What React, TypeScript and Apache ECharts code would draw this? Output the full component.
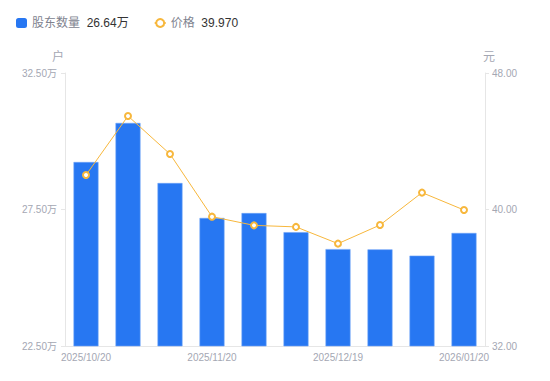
import React, { useEffect, useRef } from "react";
import * as echarts from "echarts";

const categories = [
  "2025/10/20",
  "2025/10/31",
  "2025/11/10",
  "2025/11/20",
  "2025/11/28",
  "2025/12/10",
  "2025/12/19",
  "2025/12/31",
  "2026/01/09",
  "2026/01/20",
];
const holders = [29.24, 30.67, 28.47, 27.19, 27.37, 26.67, 26.05, 26.04, 25.81, 26.64];
const prices = [42.02, 45.48, 43.25, 39.58, 39.07, 38.98, 38.0, 39.09, 40.99, 39.97];
const leftTicks = [22.5, 27.5, 32.5];

const FONT = "Arial, 'Liberation Sans', 'Noto Sans CJK SC', sans-serif";

export default function App() {
  const ref = useRef<HTMLDivElement>(null);
  useEffect(() => {
    if (!ref.current) return;
    const chart = echarts.init(ref.current, undefined, { renderer: "svg" });
    const lastHolder = holders[holders.length - 1];
    const lastPrice = prices[prices.length - 1];
    chart.setOption({
      animation: false,
      textStyle: { fontFamily: FONT },
      legend: {
        left: 11,
        top: 12,
        itemWidth: 11,
        itemHeight: 10,
        itemGap: 25,
        data: [
          { name: "股东数量", icon: "roundRect", itemStyle: { borderWidth: 0 } },
          { name: "价格" },
        ],
        formatter: (name: string) =>
          name === "股东数量"
            ? `{n|${name}}  {v|${lastHolder.toFixed(2)}万}`
            : `{n|${name}}  {v|${lastPrice.toFixed(3)}}`,
        textStyle: {
          fontFamily: FONT,
          rich: {
            n: { color: "#80838f", fontSize: 12, fontFamily: FONT },
            v: { color: "#333333", fontSize: 12, fontFamily: FONT },
          },
        },
      },
      grid: { left: 65, right: 65, top: 73, bottom: 35, containLabel: false },
      xAxis: {
        type: "category",
        data: categories,
        axisLine: { lineStyle: { color: "#e6e6e6" } },
        axisTick: { show: false },
        axisLabel: {
          color: "#a4a7b3",
          fontSize: 10,
          interval: 2,
          margin: 6,
          fontFamily: FONT,
        },
      },
      yAxis: [
        {
          type: "value",
          name: "户",
          nameGap: 10,
          nameTextStyle: { color: "#a4a7b3", fontSize: 12, padding: [0, 14, 0, 0] },
          min: 22.5,
          max: 32.5,
          axisLine: { show: true, lineStyle: { color: "#e6e6e6" } },
          axisTick: { show: true, length: 4, lineStyle: { color: "#e6e6e6" }, customValues: leftTicks },
          splitLine: { show: false },
          axisLabel: {
            color: "#a4a7b3",
            fontSize: 10,
            margin: 8,
            customValues: leftTicks,
            formatter: (v: number) => `${v.toFixed(2)}万`,
          },
        },
        {
          type: "value",
          name: "元",
          nameGap: 10,
          nameTextStyle: { color: "#a4a7b3", fontSize: 12, padding: [0, 0, 0, 8] },
          min: 32,
          max: 48,
          interval: 8,
          position: "right",
          axisLine: { show: true, lineStyle: { color: "#e6e6e6" } },
          axisTick: { show: true, length: 4, lineStyle: { color: "#e6e6e6" } },
          splitLine: { show: false },
          axisLabel: {
            color: "#a4a7b3",
            fontSize: 10,
            margin: 7,
            formatter: (v: number) => v.toFixed(2),
          },
        },
      ],
      series: [
        {
          name: "股东数量",
          type: "bar",
          yAxisIndex: 0,
          data: holders,
          barWidth: 25,
          itemStyle: { color: "#2777f2", borderColor: "#6ea3f7", borderWidth: 0.6 },
        },
        {
          name: "价格",
          type: "line",
          yAxisIndex: 1,
          data: prices,
          symbol: "emptyCircle",
          symbolSize: 6,
          lineStyle: { color: "#f7b73c", width: 1 },
          itemStyle: { color: "#f7b73c", borderWidth: 2 },
        },
      ],
    });
    return () => chart.dispose();
  }, []);
  return (
    <div
      ref={ref}
      style={{ position: "absolute", left: 0, top: 0, width: 550, height: 381 }}
    />
  );
}
